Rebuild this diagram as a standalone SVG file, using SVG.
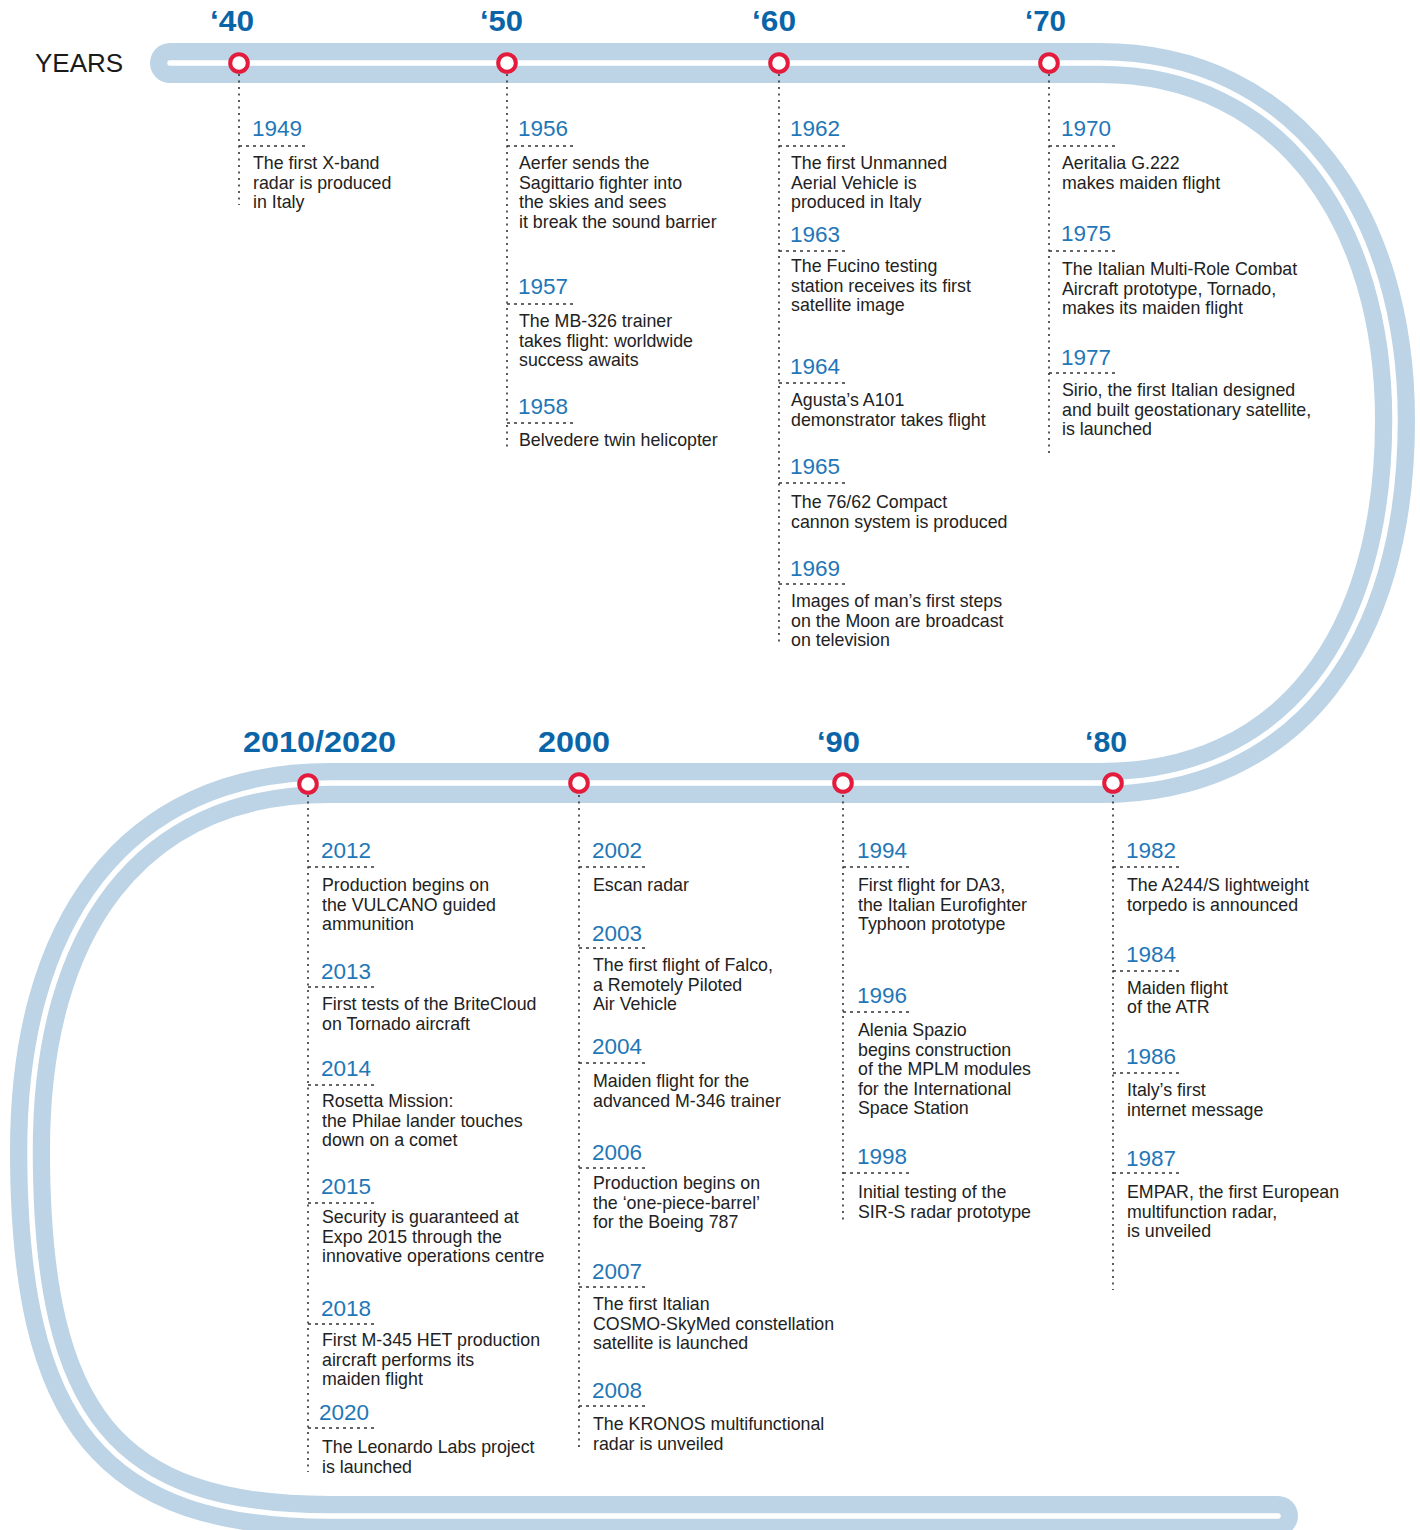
<svg xmlns="http://www.w3.org/2000/svg" width="1420" height="1530" viewBox="0 0 1420 1530">
<style>
.band{fill:none;stroke:#bdd4e6;stroke-width:40;stroke-linecap:round}
.rail{fill:none;stroke:#fff;stroke-width:5.5;stroke-linecap:round}
.dot{fill:#fff;stroke:#e31b3c;stroke-width:4}
.dec{font-family:"Liberation Sans",Arial,sans-serif;font-weight:bold;font-size:29px;fill:#0a65a8}
.yr{font-family:"Liberation Sans",Arial,sans-serif;font-size:22.5px;fill:#1f77b8}
.tx{font-family:"Liberation Sans",Arial,sans-serif;font-size:17.8px;fill:#222}
.ttl{font-family:"Liberation Sans",Arial,sans-serif;font-size:26px;fill:#1a1a1a}
.vl{fill:none;stroke:#333;stroke-width:1.6;stroke-dasharray:2 4.5}
.hl{fill:none;stroke:#333;stroke-width:1.6;stroke-dasharray:3 4}
</style>
<rect width="1420" height="1530" fill="#fff"/>
<g id="track">
<path class="band" d="M170,63 L1100,63 C1290,63 1395,220 1395,420 C1395,640 1290,783 1100,783 L330,783 C130,783 30,930 30,1150 C30,1420 110,1516 330,1516 L1278,1516"/>
<path class="rail" d="M170,63 L1100,63 C1290,63 1395,220 1395,420 C1395,640 1290,783 1100,783 L330,783 C130,783 30,930 30,1150 C30,1420 110,1516 330,1516 L1278,1516"/>
</g>
<text class="ttl" x="35" y="72">YEARS</text>
<g id="connectors">
<path class="vl" d="M239,74V205M507,74V448M779,74V645M1049,74V456M308,795V1472M579,795V1448M843,795V1220M1113,795V1290"/>
<path class="hl" d="M239,146h66M507,146h66M507,304h66M507,423h66M779,146h66M779,251h66M779,383h66M779,483h66M779,584h66M1049,146h66M1049,251h66M1049,373h66M308,867h66M308,987h66M308,1085h66M308,1203h66M308,1324h66M308,1428h66M579,867h66M579,948h66M579,1063h66M579,1168h66M579,1287h66M579,1406h66M843,867h66M843,1012h66M843,1173h66M1113,867h66M1113,971h66M1113,1073h66M1113,1173h66"/>
</g>
<g id="d40"><circle class="dot" cx="239" cy="63" r="8.8"/><text class="dec" x="210" y="31" textLength="44" lengthAdjust="spacingAndGlyphs">‘40</text></g>
<g id="d50"><circle class="dot" cx="507" cy="63" r="8.8"/><text class="dec" x="480" y="31" textLength="43" lengthAdjust="spacingAndGlyphs">‘50</text></g>
<g id="d60"><circle class="dot" cx="779" cy="63" r="8.8"/><text class="dec" x="752" y="31" textLength="44" lengthAdjust="spacingAndGlyphs">‘60</text></g>
<g id="d70"><circle class="dot" cx="1049" cy="63" r="8.8"/><text class="dec" x="1025" y="31" textLength="41" lengthAdjust="spacingAndGlyphs">‘70</text></g>
<g id="d2010"><circle class="dot" cx="308" cy="784" r="8.8"/><text class="dec" x="243" y="752" textLength="153" lengthAdjust="spacingAndGlyphs">2010/2020</text></g>
<g id="d2000"><circle class="dot" cx="579" cy="783" r="8.8"/><text class="dec" x="538" y="752" textLength="72" lengthAdjust="spacingAndGlyphs">2000</text></g>
<g id="d90"><circle class="dot" cx="843" cy="783" r="8.8"/><text class="dec" x="817" y="752" textLength="43" lengthAdjust="spacingAndGlyphs">‘90</text></g>
<g id="d80"><circle class="dot" cx="1113" cy="783" r="8.8"/><text class="dec" x="1085" y="752" textLength="42" lengthAdjust="spacingAndGlyphs">‘80</text></g>

<g id="e1949"><text class="yr" x="252" y="136">1949</text><text class="tx" y="169"><tspan x="253">The first X-band</tspan><tspan x="253" dy="19.5">radar is produced</tspan><tspan x="253" dy="19.5">in Italy</tspan></text></g>

<g id="e1956"><text class="yr" x="518" y="136">1956</text><text class="tx" y="169"><tspan x="519">Aerfer sends the</tspan><tspan x="519" dy="19.5">Sagittario fighter into</tspan><tspan x="519" dy="19.5">the skies and sees</tspan><tspan x="519" dy="19.5">it break the sound barrier</tspan></text></g>
<g id="e1957"><text class="yr" x="518" y="294">1957</text><text class="tx" y="327"><tspan x="519">The MB-326 trainer</tspan><tspan x="519" dy="19.5">takes flight: worldwide</tspan><tspan x="519" dy="19.5">success awaits</tspan></text></g>
<g id="e1958"><text class="yr" x="518" y="414">1958</text><text class="tx" y="446"><tspan x="519">Belvedere twin helicopter</tspan></text></g>

<g id="e1962"><text class="yr" x="790" y="136">1962</text><text class="tx" y="169"><tspan x="791">The first Unmanned</tspan><tspan x="791" dy="19.5">Aerial Vehicle is</tspan><tspan x="791" dy="19.5">produced in Italy</tspan></text></g>
<g id="e1963"><text class="yr" x="790" y="242">1963</text><text class="tx" y="272"><tspan x="791">The Fucino testing</tspan><tspan x="791" dy="19.5">station receives its first</tspan><tspan x="791" dy="19.5">satellite image</tspan></text></g>
<g id="e1964"><text class="yr" x="790" y="374">1964</text><text class="tx" y="406"><tspan x="791">Agusta’s A101</tspan><tspan x="791" dy="19.5">demonstrator takes flight</tspan></text></g>
<g id="e1965"><text class="yr" x="790" y="474">1965</text><text class="tx" y="508"><tspan x="791">The 76/62 Compact</tspan><tspan x="791" dy="19.5">cannon system is produced</tspan></text></g>
<g id="e1969"><text class="yr" x="790" y="576">1969</text><text class="tx" y="607"><tspan x="791">Images of man’s first steps</tspan><tspan x="791" dy="19.5">on the Moon are broadcast</tspan><tspan x="791" dy="19.5">on television</tspan></text></g>

<g id="e1970"><text class="yr" x="1061" y="136">1970</text><text class="tx" y="169"><tspan x="1062">Aeritalia G.222</tspan><tspan x="1062" dy="19.5">makes maiden flight</tspan></text></g>
<g id="e1975"><text class="yr" x="1061" y="241">1975</text><text class="tx" y="275"><tspan x="1062">The Italian Multi-Role Combat</tspan><tspan x="1062" dy="19.5">Aircraft prototype, Tornado,</tspan><tspan x="1062" dy="19.5">makes its maiden flight</tspan></text></g>
<g id="e1977"><text class="yr" x="1061" y="365">1977</text><text class="tx" y="396"><tspan x="1062">Sirio, the first Italian designed</tspan><tspan x="1062" dy="19.5">and built geostationary satellite,</tspan><tspan x="1062" dy="19.5">is launched</tspan></text></g>

<g id="e2012"><text class="yr" x="321" y="858">2012</text><text class="tx" y="891"><tspan x="322">Production begins on</tspan><tspan x="322" dy="19.5">the VULCANO guided</tspan><tspan x="322" dy="19.5">ammunition</tspan></text></g>
<g id="e2013"><text class="yr" x="321" y="979">2013</text><text class="tx" y="1010"><tspan x="322">First tests of the BriteCloud</tspan><tspan x="322" dy="19.5">on Tornado aircraft</tspan></text></g>
<g id="e2014"><text class="yr" x="321" y="1076">2014</text><text class="tx" y="1107"><tspan x="322">Rosetta Mission:</tspan><tspan x="322" dy="19.5">the Philae lander touches</tspan><tspan x="322" dy="19.5">down on a comet</tspan></text></g>
<g id="e2015"><text class="yr" x="321" y="1194">2015</text><text class="tx" y="1223"><tspan x="322">Security is guaranteed at</tspan><tspan x="322" dy="19.5">Expo 2015 through the</tspan><tspan x="322" dy="19.5">innovative operations centre</tspan></text></g>
<g id="e2018"><text class="yr" x="321" y="1316">2018</text><text class="tx" y="1346"><tspan x="322">First M-345 HET production</tspan><tspan x="322" dy="19.5">aircraft performs its</tspan><tspan x="322" dy="19.5">maiden flight</tspan></text></g>
<g id="e2020"><text class="yr" x="319" y="1420">2020</text><text class="tx" y="1453"><tspan x="322">The Leonardo Labs project</tspan><tspan x="322" dy="19.5">is launched</tspan></text></g>

<g id="e2002"><text class="yr" x="592" y="858">2002</text><text class="tx" y="891"><tspan x="593">Escan radar</tspan></text></g>
<g id="e2003"><text class="yr" x="592" y="941">2003</text><text class="tx" y="971"><tspan x="593">The first flight of Falco,</tspan><tspan x="593" dy="19.5">a Remotely Piloted</tspan><tspan x="593" dy="19.5">Air Vehicle</tspan></text></g>
<g id="e2004"><text class="yr" x="592" y="1054">2004</text><text class="tx" y="1087"><tspan x="593">Maiden flight for the</tspan><tspan x="593" dy="19.5">advanced M-346 trainer</tspan></text></g>
<g id="e2006"><text class="yr" x="592" y="1160">2006</text><text class="tx" y="1189"><tspan x="593">Production begins on</tspan><tspan x="593" dy="19.5">the ‘one-piece-barrel’</tspan><tspan x="593" dy="19.5">for the Boeing 787</tspan></text></g>
<g id="e2007"><text class="yr" x="592" y="1279">2007</text><text class="tx" y="1310"><tspan x="593">The first Italian</tspan><tspan x="593" dy="19.5">COSMO-SkyMed constellation</tspan><tspan x="593" dy="19.5">satellite is launched</tspan></text></g>
<g id="e2008"><text class="yr" x="592" y="1398">2008</text><text class="tx" y="1430"><tspan x="593">The KRONOS multifunctional</tspan><tspan x="593" dy="19.5">radar is unveiled</tspan></text></g>

<g id="e1994"><text class="yr" x="857" y="858">1994</text><text class="tx" y="891"><tspan x="858">First flight for DA3,</tspan><tspan x="858" dy="19.5">the Italian Eurofighter</tspan><tspan x="858" dy="19.5">Typhoon prototype</tspan></text></g>
<g id="e1996"><text class="yr" x="857" y="1003">1996</text><text class="tx" y="1036"><tspan x="858">Alenia Spazio</tspan><tspan x="858" dy="19.5">begins construction</tspan><tspan x="858" dy="19.5">of the MPLM modules</tspan><tspan x="858" dy="19.5">for the International</tspan><tspan x="858" dy="19.5">Space Station</tspan></text></g>
<g id="e1998"><text class="yr" x="857" y="1164">1998</text><text class="tx" y="1198"><tspan x="858">Initial testing of the</tspan><tspan x="858" dy="19.5">SIR-S radar prototype</tspan></text></g>

<g id="e1982"><text class="yr" x="1126" y="858">1982</text><text class="tx" y="891"><tspan x="1127">The A244/S lightweight</tspan><tspan x="1127" dy="19.5">torpedo is announced</tspan></text></g>
<g id="e1984"><text class="yr" x="1126" y="962">1984</text><text class="tx" y="994"><tspan x="1127">Maiden flight</tspan><tspan x="1127" dy="19">of the ATR</tspan></text></g>
<g id="e1986"><text class="yr" x="1126" y="1064">1986</text><text class="tx" y="1096"><tspan x="1127">Italy’s first</tspan><tspan x="1127" dy="19.5">internet message</tspan></text></g>
<g id="e1987"><text class="yr" x="1126" y="1166">1987</text><text class="tx" y="1198"><tspan x="1127">EMPAR, the first European</tspan><tspan x="1127" dy="19.5">multifunction radar,</tspan><tspan x="1127" dy="19.5">is unveiled</tspan></text></g>
</svg>
